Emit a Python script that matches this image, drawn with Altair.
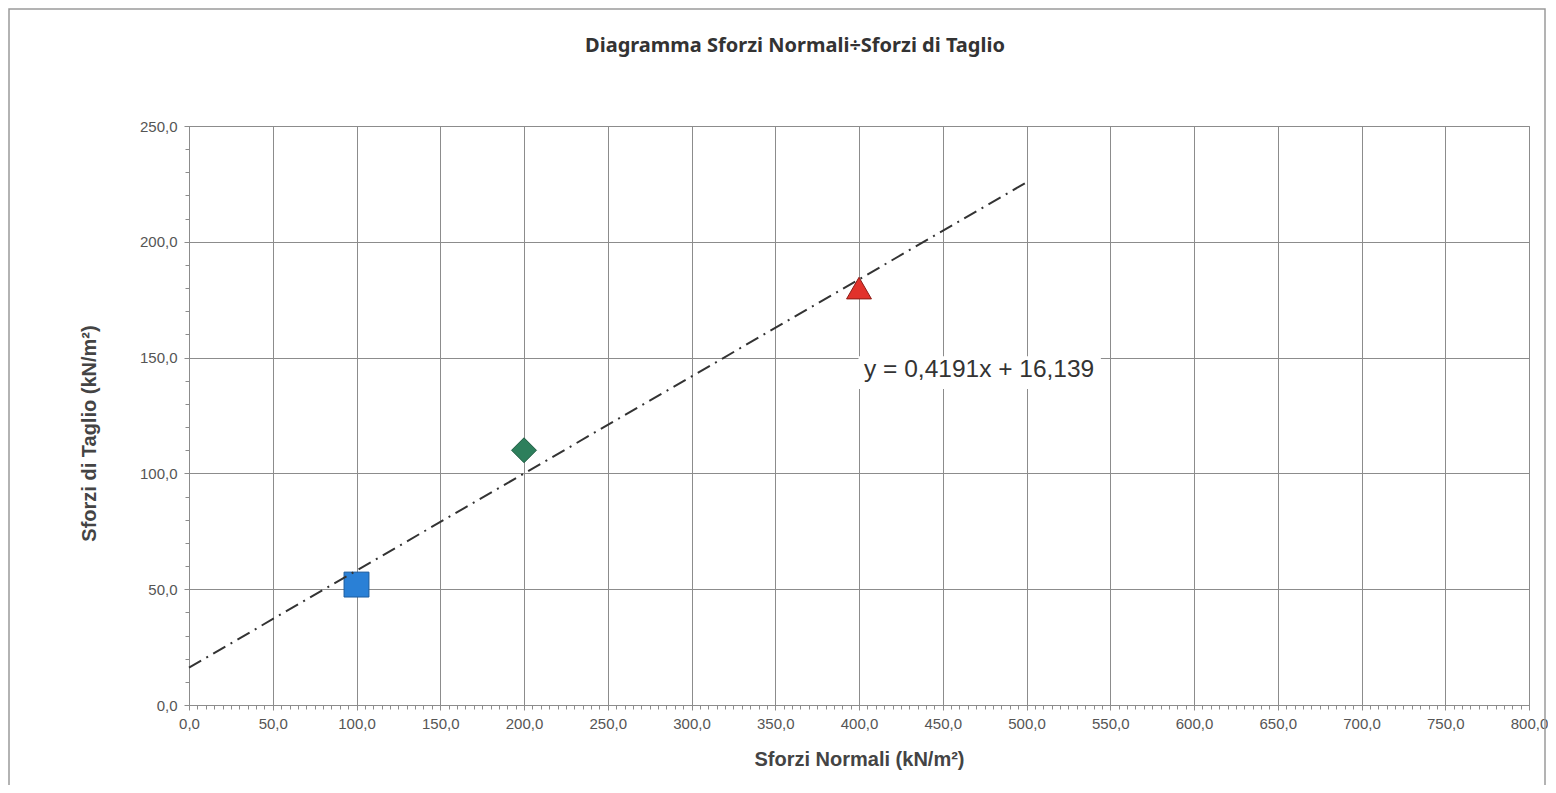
import altair as alt
import pandas as pd

# ---- data ----
normali = [100, 200, 400]          # Sforzi Normali (kN/m2)
taglio = [52, 110, 180]            # Sforzi di Taglio (kN/m2)
serie = ["Prova 1", "Prova 2", "Prova 3"]
shapes = ["square", "diamond", "triangle-up"]
fills = ["#2a80d6", "#2d7f5c", "#e2322b"]
strokes = ["#1b5c9e", "#1d5a40", "#8c1c16"]

trend_slope = 0.4191
trend_intercept = 16.139
trend_extent = [0, 500]
equation = "y = 0,4191x + 16,139"
eq_pos = [403, 144.6]
eq_box_x = [399.7, 544.4]
eq_box_y = [136.4, 150.6]

x_ticks = list(range(0, 801, 50))
y_ticks = list(range(0, 251, 50))
x_minor = list(range(0, 801, 5))
y_minor = list(range(0, 251, 10))

title_text = "Diagramma Sforzi Normali÷Sforzi di Taglio"
x_title = "Sforzi Normali (kN/m²)"
y_title = "Sforzi di Taglio  (kN/m²)"

W, H = 1340, 579

pts = pd.DataFrame({"x": normali, "y": taglio, "serie": serie})
trend = pd.DataFrame({"x": trend_extent})
eq = pd.DataFrame({"x": [eq_pos[0]], "y": [eq_pos[1]], "t": [equation],
                   "bx": [eq_box_x[0]], "bx2": [eq_box_x[1]],
                   "by": [eq_box_y[0]], "by2": [eq_box_y[1]]})
one = pd.DataFrame({"t": [title_text]})

xs = alt.Scale(domain=[0, 800], nice=False, zero=False)
ys = alt.Scale(domain=[0, 250], nice=False, zero=False)
lab = "replace(format(datum.value, '.1f'), '.', ',')"

frame = alt.Chart(one).mark_rect(filled=False, stroke="#9a9a9a", strokeWidth=1.5).encode(
    x=alt.value(-180), x2=alt.value(1356), y=alt.value(-117), y2=alt.value(720)
)

title = alt.Chart(one).mark_text(
    font="Noto Sans", fontSize=20, fontWeight="bold", color="#333333",
    align="center", baseline="middle"
).encode(x=alt.value(606), y=alt.value(-80), text="t:N")

points = alt.Chart(pts).mark_point(filled=True, size=620, strokeWidth=1, opacity=1).encode(
    x=alt.X("x:Q", scale=xs, axis=alt.Axis(
        values=x_ticks, labelExpr=lab, title=x_title, grid=True, tickSize=5,
        labelPadding=6, titlePadding=18, labelFlush=False, labelOverlap=False)),
    y=alt.Y("y:Q", scale=ys, axis=alt.Axis(
        values=y_ticks, labelExpr=lab, title=y_title, grid=True, tickSize=5,
        labelPadding=7, titlePadding=40, titleY=307, labelFlush=False,
        labelOverlap=False)),
    shape=alt.Shape("serie:N", scale=alt.Scale(domain=serie, range=shapes), legend=None),
    fill=alt.Fill("serie:N", scale=alt.Scale(domain=serie, range=fills), legend=None),
    stroke=alt.Stroke("serie:N", scale=alt.Scale(domain=serie, range=strokes), legend=None),
)

minor = alt.Chart(pts).mark_point(opacity=0).encode(
    x=alt.X("x:Q", scale=xs, axis=alt.Axis(
        values=x_minor, labels=False, domain=False, grid=False, tickSize=4,
        title=None, orient="bottom")),
    y=alt.Y("y:Q", scale=ys, axis=alt.Axis(
        values=y_minor, labels=False, domain=False, grid=False, tickSize=4,
        title=None, orient="left")),
)

line = alt.Chart(trend).transform_calculate(
    y=f"{trend_slope} * datum.x + {trend_intercept}"
).mark_line(color="#333333", strokeWidth=2, strokeDash=[14, 6, 2, 6]).encode(
    x=alt.X("x:Q", scale=xs, axis=None),
    y=alt.Y("y:Q", scale=ys, axis=None),
)

box = alt.Chart(eq).mark_rect(fill="white").encode(
    x=alt.X("bx:Q", scale=xs, axis=None), x2="bx2:Q",
    y=alt.Y("by:Q", scale=ys, axis=None), y2="by2:Q",
)

txt = alt.Chart(eq).mark_text(
    align="left", baseline="middle", font="Liberation Sans", fontSize=24.5, color="#333333"
).encode(
    x=alt.X("x:Q", scale=xs, axis=None),
    y=alt.Y("y:Q", scale=ys, axis=None),
    text="t:N",
)

chart = alt.layer(frame, title, points, minor, line, box, txt).resolve_axis(
    x="independent", y="independent"
).properties(
    width=W, height=H,
    autosize=alt.AutoSizeParams(type="none"),
    padding={"left": 181, "top": 118, "right": 19, "bottom": 80},
).configure_view(stroke="#8a8a8a", strokeWidth=1).configure_axis(
    gridColor="#8c8c8c", gridWidth=1, gridOpacity=1,
    domainColor="#8c8c8c", tickColor="#8c8c8c",
    labelColor="#555555", labelFont="Liberation Sans", labelFontSize=15,
    titleColor="#444444", titleFont="Liberation Sans", titleFontSize=20,
    titleFontWeight="bold",
)

chart.save("out.html", embed_options={"renderer": "svg", "actions": False})
